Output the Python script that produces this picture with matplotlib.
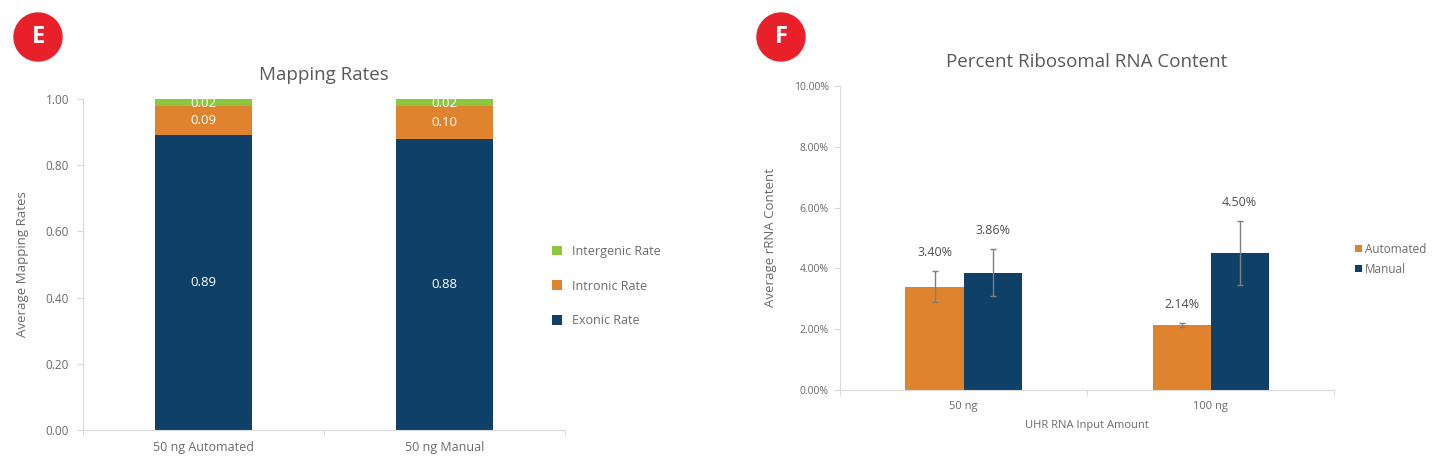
import matplotlib.pyplot as plt
from matplotlib.patches import Circle
import numpy as np

plt.rcParams['font.family'] = ['Open Sans', 'DejaVu Sans']

# --- data: mapping rates (panel E)
samples = ['50 ng Automated', '50 ng Manual']
exonic = [0.89, 0.88]
intronic = [0.09, 0.10]
intergenic = [0.02, 0.02]

# --- data: rRNA content (panel F)
inputs = ['50 ng', '100 ng']
automated = [3.40, 2.14]
manual = [3.86, 4.50]
automated_err = [0.52, 0.07]
manual_err = [0.77, 1.06]

navy = '#0f4068'
orange = '#e0832f'
green = '#8dc63f'
grey_txt = '#6b6b6b'
axis_col = '#d9d9d9'

fig = plt.figure(figsize=(14.34, 4.73), dpi=100)

# panel letters
for cx, letter in [(38, 'E'), (781, 'F')]:
    x = cx / 1434
    y = 1 - 37 / 473
    fig.patches.append(Circle((cx, 473 - 37), 24, transform=None, color='#e8202a', zorder=5))
    fig.text(x, y, letter, color='white', fontsize=17, fontweight='bold',
             ha='center', va='center', zorder=6)

# ---------------- panel E
ax1 = fig.add_axes([0.0579, 0.0909, 0.336, 0.6998])
xs = np.arange(len(samples))
w = 0.4
b1 = ax1.bar(xs, exonic, w, color=navy, label='Exonic Rate')
b2 = ax1.bar(xs, intronic, w, bottom=exonic, color=orange, label='Intronic Rate')
bot3 = np.array(exonic) + np.array(intronic)
b3 = ax1.bar(xs, intergenic, w, bottom=bot3, color=green, label='Intergenic Rate')
for i in range(len(samples)):
    ax1.text(xs[i], exonic[i] / 2, f'{exonic[i]:.2f}', color='white', ha='center', va='center', fontsize=9.5)
    ax1.text(xs[i], exonic[i] + intronic[i] / 2, f'{intronic[i]:.2f}', color='white', ha='center', va='center', fontsize=9.5)
    ax1.text(xs[i], bot3[i] + intergenic[i] / 2 - 0.004, f'{intergenic[i]:.2f}', color='white', ha='center', va='center', fontsize=9.5)
ax1.set_xlim(-0.5, 1.5)
ax1.set_ylim(0, 1.0)
ax1.set_yticks(np.arange(0, 1.01, 0.2))
ax1.set_yticklabels([f'{v:.2f}' for v in np.arange(0, 1.01, 0.2)])
ax1.set_xticks(xs)
ax1.set_xticklabels(samples)
ax1.set_xticks([-0.5, 0.5, 1.5], minor=True)
ax1.tick_params(axis='x', which='major', length=0, pad=8, labelsize=9, labelcolor=grey_txt)
ax1.tick_params(axis='x', which='minor', length=4, color=axis_col)
ax1.tick_params(axis='y', length=4, color=axis_col, labelsize=8.5, labelcolor=grey_txt, pad=6)
for s in ['top', 'right']:
    ax1.spines[s].set_visible(False)
for s in ['left', 'bottom']:
    ax1.spines[s].set_color(axis_col)
ax1.set_ylabel('Average Mapping Rates', color=grey_txt, fontsize=9.5, labelpad=12)
ax1.set_title('Mapping Rates', color='#595959', fontsize=13.5, pad=14)
ax1.legend(handles=[b3, b2, b1], loc='center left', bbox_to_anchor=(0.95, 0.435),
           frameon=False, fontsize=9, labelcolor=grey_txt, labelspacing=1.75,
           handlelength=0.8, handleheight=0.8, handletextpad=0.8)

# ---------------- panel F
ax2 = fig.add_axes([0.5858, 0.1755, 0.3445, 0.6427])
xs2 = np.arange(len(inputs))
w2 = 0.235
ax2.bar(xs2 - w2 / 2, automated, w2, color=orange, label='Automated')
ax2.bar(xs2 + w2 / 2, manual, w2, color=navy, label='Manual')
ax2.errorbar(xs2 - w2 / 2, automated, yerr=automated_err, fmt='none', ecolor='#7f7f7f', elinewidth=1, capsize=2.5)
ax2.errorbar(xs2 + w2 / 2, manual, yerr=manual_err, fmt='none', ecolor='#7f7f7f', elinewidth=1, capsize=2.5)
for i in range(len(inputs)):
    ax2.text(xs2[i] - w2 / 2, automated[i] + automated_err[i] + 0.6, f'{automated[i]:.2f}%',
             ha='center', va='center', fontsize=9, color='#505050')
    ax2.text(xs2[i] + w2 / 2, manual[i] + manual_err[i] + 0.6, f'{manual[i]:.2f}%',
             ha='center', va='center', fontsize=9, color='#505050')
ax2.set_xlim(-0.5, 1.5)
ax2.set_ylim(0, 10)
ax2.set_yticks(np.arange(0, 10.1, 2))
ax2.set_yticklabels([f'{v:.2f}%' for v in np.arange(0, 10.1, 2)])
ax2.set_xticks(xs2)
ax2.set_xticklabels(inputs)
ax2.set_xticks([-0.5, 0.5, 1.5], minor=True)
ax2.tick_params(axis='x', which='major', length=0, pad=8, labelsize=8, labelcolor=grey_txt)
ax2.tick_params(axis='x', which='minor', length=4, color=axis_col)
ax2.tick_params(axis='y', length=4, color=axis_col, labelsize=7.5, labelcolor=grey_txt, pad=4)
for s in ['top', 'right']:
    ax2.spines[s].set_visible(False)
for s in ['left', 'bottom']:
    ax2.spines[s].set_color(axis_col)
ax2.set_ylabel('Average rRNA Content', color=grey_txt, fontsize=9.5, labelpad=12)
ax2.set_xlabel('UHR RNA Input Amount', color=grey_txt, fontsize=8, labelpad=6)
ax2.set_title('Percent Ribosomal RNA Content', color='#595959', fontsize=13.5, pad=14)
ax2.legend(loc='center left', bbox_to_anchor=(1.02, 0.43), frameon=False, fontsize=8.5,
           labelcolor=grey_txt, labelspacing=0.6, handlelength=0.6, handleheight=0.6,
           handletextpad=0.3)

fig.savefig('out.png', dpi=100)
